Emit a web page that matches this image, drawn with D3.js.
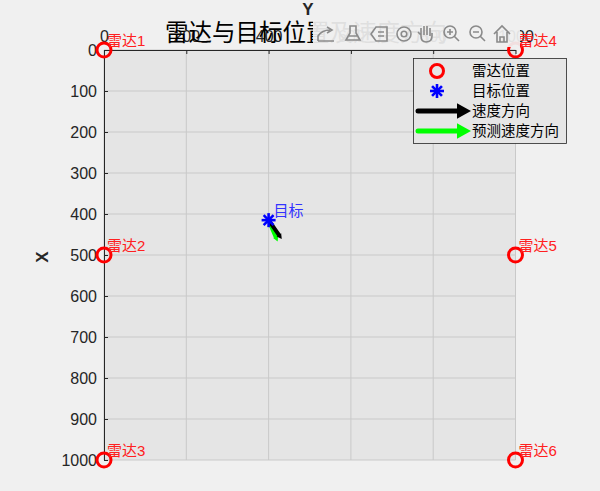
<!DOCTYPE html>
<html><head><meta charset="utf-8">
<script src="https://cdn.jsdelivr.net/npm/d3@7"></script>
<style>
html,body{margin:0;padding:0;background:#f0f0f0;}
svg{display:block;}
text{font-family:"Liberation Sans",Arial,"Noto Sans CJK SC",sans-serif;}
.cjk{font-family:"Liberation Sans","Noto Sans CJK SC",sans-serif;}
</style></head>
<body>
<svg id="chart" width="600" height="491"></svg>
<script>
// ---- data ----
const radarY = [0, 0, 0, 1000, 1000, 1000];      // horizontal (Y axis)
const radarX = [0, 500, 1000, 0, 500, 1000];     // vertical (X axis)
const radarNames = ["雷达1","雷达2","雷达3","雷达4","雷达5","雷达6"];
const target = [400, 415];                        // [Y, X]
const velocity = [32, 46];                        // [dY, dX]
const predVelocity = [22, 52];
const yTicks = [0,200,400,600,800,1000];
const xTicks = [0,100,200,300,400,500,600,700,800,900,1000];
const legendLabels = ["雷达位置","目标位置","速度方向","预测速度方向"];
const titleText = "雷达与目标位置及速度方向";

const svg = d3.select("#chart");
const L=104, R=515.5, T=50, B=460;
const sx = d3.scaleLinear().domain([0,1000]).range([L,R]);
const sy = d3.scaleLinear().domain([0,1000]).range([T,B]);

// plot background
svg.append("rect").attr("x",L).attr("y",T).attr("width",R-L).attr("height",B-T).attr("fill","#e5e5e5");

// grid
const g = svg.append("g");
g.selectAll(".gv").data(yTicks).join("line")
  .attr("x1",d=>sx(d)).attr("x2",d=>sx(d)).attr("y1",T).attr("y2",B)
  .attr("stroke","#c9c9c9").attr("stroke-width",1);
g.selectAll(".gh").data(xTicks).join("line")
  .attr("x1",L).attr("x2",R).attr("y1",d=>sy(d)).attr("y2",d=>sy(d))
  .attr("stroke","#c9c9c9").attr("stroke-width",1);

// axes
const fmt = d3.format("d");
const axTop = svg.append("g").attr("transform",`translate(0,${T})`)
  .call(d3.axisTop(sx).tickValues(yTicks).tickFormat(fmt).tickSizeInner(-4).tickSizeOuter(0).tickPadding(8));
const axLeft = svg.append("g").attr("transform",`translate(${L},0)`)
  .call(d3.axisLeft(sy).tickValues(xTicks).tickFormat(fmt).tickSizeInner(-4).tickSizeOuter(0).tickPadding(7));
[axTop,axLeft].forEach(a=>{
  a.select(".domain").attr("stroke","#262626");
  a.selectAll(".tick line").attr("stroke","#262626");
  a.selectAll(".tick text").attr("fill","#262626").style("font-size","16px")
    .style("font-family","'Liberation Sans',Arial,sans-serif");
});
axLeft.selectAll(".tick text").attr("dy","0.35em");

// axis labels
svg.append("text").attr("x",308).attr("y",15).attr("text-anchor","middle")
  .style("font-size","17px").style("font-weight","bold").attr("fill","#262626").text("Y");
svg.append("text").attr("transform","translate(48,257) rotate(-90)").attr("text-anchor","middle")
  .style("font-size","17px").style("font-weight","bold").attr("fill","#262626").text("X");

// title
svg.append("text").attr("class","cjk").attr("x",165).attr("y",41)
  .style("font-size","23.5px").attr("fill","#000").text(titleText);

// arrows helper
function arrow(sel, x1,y1,x2,y2,color,w,head){
  const ang=Math.atan2(y2-y1,x2-x1);
  const bx=x2-head*Math.cos(ang), by=y2-head*Math.sin(ang);
  sel.append("line").attr("x1",x1).attr("y1",y1).attr("x2",bx).attr("y2",by)
    .attr("stroke",color).attr("stroke-width",w).attr("stroke-linecap","round");
  const hw=head*0.55;
  const p=[[x2,y2],[bx+hw*Math.sin(ang),by-hw*Math.cos(ang)],[bx-hw*Math.sin(ang),by+hw*Math.cos(ang)]];
  sel.append("path").attr("d","M"+p.map(q=>q.join(",")).join("L")+"Z").attr("fill",color);
}
function star(sel,cx,cy,r,color,w){
  const angs=[0,45,90,135];
  angs.forEach(a=>{
    const t=a*Math.PI/180;
    sel.append("line").attr("x1",cx-r*Math.cos(t)).attr("y1",cy-r*Math.sin(t))
      .attr("x2",cx+r*Math.cos(t)).attr("y2",cy+r*Math.sin(t))
      .attr("stroke",color).attr("stroke-width",w);
  });
}

// velocity arrows
const m = svg.append("g");
arrow(m, sx(target[0]), sy(target[1]), sx(target[0]+predVelocity[0]), sy(target[1]+predVelocity[1]), "#00ff00", 4, 5);
arrow(m, sx(target[0]), sy(target[1]), sx(target[0]+velocity[0]), sy(target[1]+velocity[1]), "#000000", 4, 5);

// target
star(m, sx(target[0]), sy(target[1]), 7, "#0000ff", 2.6);
m.append("text").attr("class","cjk").attr("x",sx(target[0])+5).attr("y",sy(target[1])-4)
  .style("font-size","15px").attr("fill","#3333ff").text("目标");

// radars
radarY.forEach((v,i)=>{
  m.append("circle").attr("cx",sx(v)).attr("cy",sy(radarX[i])).attr("r",7)
    .attr("fill","none").attr("stroke","#ff0000").attr("stroke-width",3);
  m.append("text").attr("class","cjk").attr("x",sx(v)+3).attr("y",sy(radarX[i])-4)
    .style("font-size","15px").attr("fill","#ff2020").text(radarNames[i]);
});

// toolbar overlay
const tb = svg.append("g");
tb.append("rect").attr("x",313).attr("y",15).attr("width",207).attr("height",32)
  .attr("fill","#f0f0f0").attr("opacity",0.93);
const ic = tb.append("g").attr("fill","none").attr("stroke","#8a8a8a").attr("stroke-width",1.6);
ic.append("path").attr("d","M318,41 L318,36 Q322,30 330,30 M327,27 L332,30 L327,33 M318,41 L334,41");
ic.append("path").attr("d","M350,26 L356,26 L356,33 L360,40 L346,40 L350,33 Z M349,36 L357,36");
ic.append("path").attr("d","M376,27 L387,27 L387,41 L376,41 L371,34 Z M378,32 L384,32 M378,36 L384,36");
ic.append("circle").attr("cx",404).attr("cy",34).attr("r",7);
ic.append("circle").attr("cx",404).attr("cy",34).attr("r",2.8);
ic.append("path").attr("d","M421,36 L421,28 M424,35 L424,26 M427,35 L427,26 M430,36 L430,28 M421,36 Q421,42 426,42 Q432,42 432,36 L432,33 M421,35 L418,32");
ic.append("circle").attr("cx",450).attr("cy",32).attr("r",6);
ic.append("path").attr("d","M454,36 L459,41 M447,32 L453,32 M450,29 L450,35");
ic.append("circle").attr("cx",476).attr("cy",32).attr("r",6);
ic.append("path").attr("d","M480,36 L485,41 M473,32 L479,32");
ic.append("path").attr("d","M494,34 L502,26 L510,34 M497,32 L497,42 L507,42 L507,32 M500,42 L500,37 L504,37 L504,42");

// legend
const lg = svg.append("g");
lg.append("rect").attr("x",413.5).attr("y",58.5).attr("width",153).attr("height",85)
  .attr("fill","#e6e6e6").attr("stroke","#262626").attr("stroke-width",0.8);
const ly=[71,91,111,131];
lg.append("circle").attr("cx",437).attr("cy",ly[0]).attr("r",6.5).attr("fill","none")
  .attr("stroke","#ff0000").attr("stroke-width",3);
star(lg,437,ly[1],7,"#0000ff",2.6);
arrow(lg,418,ly[2],471,ly[2],"#000000",5,14);
arrow(lg,418,ly[3],471,ly[3],"#00ff00",5,14);
legendLabels.forEach((t,i)=>{
  lg.append("text").attr("class","cjk").attr("x",472).attr("y",ly[i]+5)
    .style("font-size","14.5px").attr("fill","#000").text(t);
});
</script>
</body></html>
